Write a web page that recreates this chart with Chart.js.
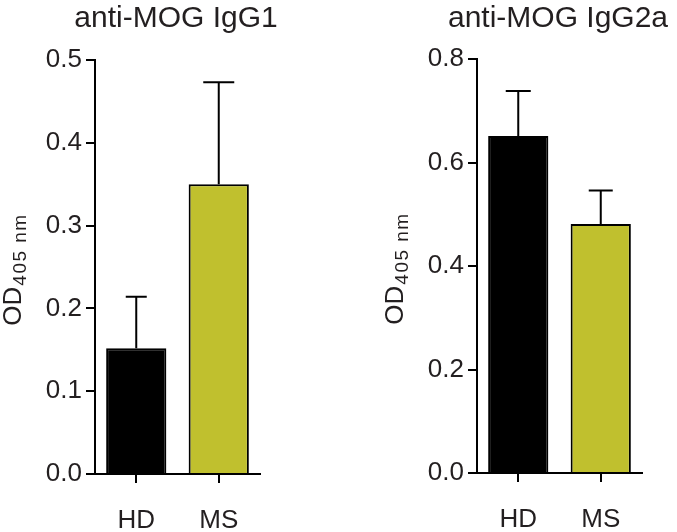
<!DOCTYPE html>
<html>
<head>
<meta charset="utf-8">
<script src="https://cdn.jsdelivr.net/npm/chart.js@4"></script>
<style>
  html, body { margin: 0; padding: 0; background: #fff; }
  #wrap { position: relative; width: 677px; height: 532px; }
  canvas { position: absolute; top: 0; }
</style>
</head>
<body>
<div id="wrap">
  <canvas id="chartIgG1" width="340" height="532" style="left:0"></canvas>
  <canvas id="chartIgG2a" width="337" height="532" style="left:340px"></canvas>
</div>
<script>
// Groups and values
const groups = ['HD', 'MS'];
const igg1Means = [0.152, 0.350];
const igg1Errors = [0.062, 0.123];
const igg2aMeans = [0.651, 0.481];
const igg2aErrors = [0.087, 0.065];
const igg1Ticks = [0.0, 0.1, 0.2, 0.3, 0.4, 0.5];
const igg2aTicks = [0.0, 0.2, 0.4, 0.6, 0.8];

const barColors = ['#000000', '#c0c02e'];
const FONT = '"Liberation Sans", Arial, Helvetica, sans-serif';
const TEXT = '#231f20';

// Draws the upward error bars (SEM) from the bar top
const errorBarPlugin = {
    id: 'errorBars',
    afterDatasetsDraw(chart, args, opts) {
        const ctx = chart.ctx;
        const meta = chart.getDatasetMeta(0);
        const yScale = chart.scales.y;
        const values = chart.data.datasets[0].data;
        ctx.save();
        ctx.strokeStyle = '#000';
        ctx.lineWidth = 2;
        meta.data.forEach((bar, i) => {
            const top = yScale.getPixelForValue(values[i] + opts.errors[i]);
            const half = opts.caps[i] / 2;
            ctx.beginPath();
            ctx.moveTo(bar.x, bar.y);
            ctx.lineTo(bar.x, top);
            ctx.moveTo(bar.x - half, top);
            ctx.lineTo(bar.x + half, top);
            ctx.stroke();
        });
        ctx.restore();
    }
};

// Panel title and the OD405 nm axis label (with subscript)
const labelPlugin = {
    id: 'panelLabels',
    afterDraw(chart, args, opts) {
        const ctx = chart.ctx;
        const area = chart.chartArea;
        ctx.save();
        ctx.fillStyle = TEXT;
        ctx.font = '30px ' + FONT;
        ctx.textAlign = 'center';
        ctx.textBaseline = 'alphabetic';
        ctx.fillText(opts.title, (area.left + area.right) / 2 - 1.5, 27);

        // rotated y-axis title
        const big = '26px ' + FONT;
        const small = '19px ' + FONT;
        ctx.font = big;
        const w1 = ctx.measureText('OD').width;
        ctx.font = small;
        ctx.letterSpacing = '1.5px';
        const w2 = ctx.measureText('405 nm').width;
        ctx.letterSpacing = '0px';
        const total = w1 + w2;
        ctx.translate(area.left - 74, (area.top + area.bottom) / 2 + 3);
        ctx.rotate(-Math.PI / 2);
        ctx.textAlign = 'left';
        ctx.font = big;
        ctx.fillText('OD', -total / 2, 0);
        ctx.font = small;
        ctx.letterSpacing = '1.5px';
        ctx.fillText('405 nm', -total / 2 + w1 + 1, 5);
        ctx.restore();
    }
};

function makeChart(id, means, errors, ticks, opts) {
    const ctx = document.getElementById(id).getContext('2d');
    return new Chart(ctx, {
        type: 'bar',
        data: {
            labels: groups,
            datasets: [{
                data: means,
                backgroundColor: barColors,
                borderColor: '#000',
                borderWidth: 2,
                borderSkipped: 'start',
                barPercentage: 0.73,
                categoryPercentage: 1.0
            }]
        },
        options: {
            responsive: false,
            animation: false,
            devicePixelRatio: 1,
            layout: { padding: { left: 0, right: opts.padRight, top: opts.padTop, bottom: 0 } },
            plugins: {
                legend: { display: false },
                tooltip: { enabled: false },
                errorBars: { errors: errors, caps: opts.caps },
                panelLabels: { title: opts.title }
            },
            scales: {
                x: {
                    offset: true,
                    afterFit: s => { s.height = opts.xHeight; },
                    border: { display: true, color: '#000', width: 2 },
                    grid: { drawOnChartArea: false, drawTicks: true, offset: false, tickLength: 9, color: '#000', lineWidth: 2 },
                    ticks: { color: TEXT, font: { family: FONT, size: 26 }, padding: 22 }
                },
                y: {
                    min: ticks[0],
                    max: ticks[ticks.length - 1],
                    afterFit: s => { s.width = opts.yWidth; },
                    afterBuildTicks: s => { s.ticks = ticks.map(v => ({ value: v })); },
                    border: { display: true, color: '#000', width: 2 },
                    grid: { drawOnChartArea: false, drawTicks: true, tickLength: 9, color: '#000', lineWidth: 2 },
                    ticks: {
                        color: TEXT,
                        font: { family: FONT, size: 26 },
                        padding: 4,
                        callback: v => Number(v).toFixed(1)
                    }
                }
            }
        },
        plugins: [errorBarPlugin, labelPlugin]
    });
}

makeChart('chartIgG1', igg1Means, igg1Errors, igg1Ticks, {
    title: 'anti-MOG IgG1', padRight: 80, padTop: 60, xHeight: 58, yWidth: 95, caps: [21, 31]
});
makeChart('chartIgG2a', igg2aMeans, igg2aErrors, igg2aTicks, {
    title: 'anti-MOG IgG2a', padRight: 35, padTop: 59, xHeight: 59, yWidth: 137, caps: [25, 24]
});
</script>
</body>
</html>
